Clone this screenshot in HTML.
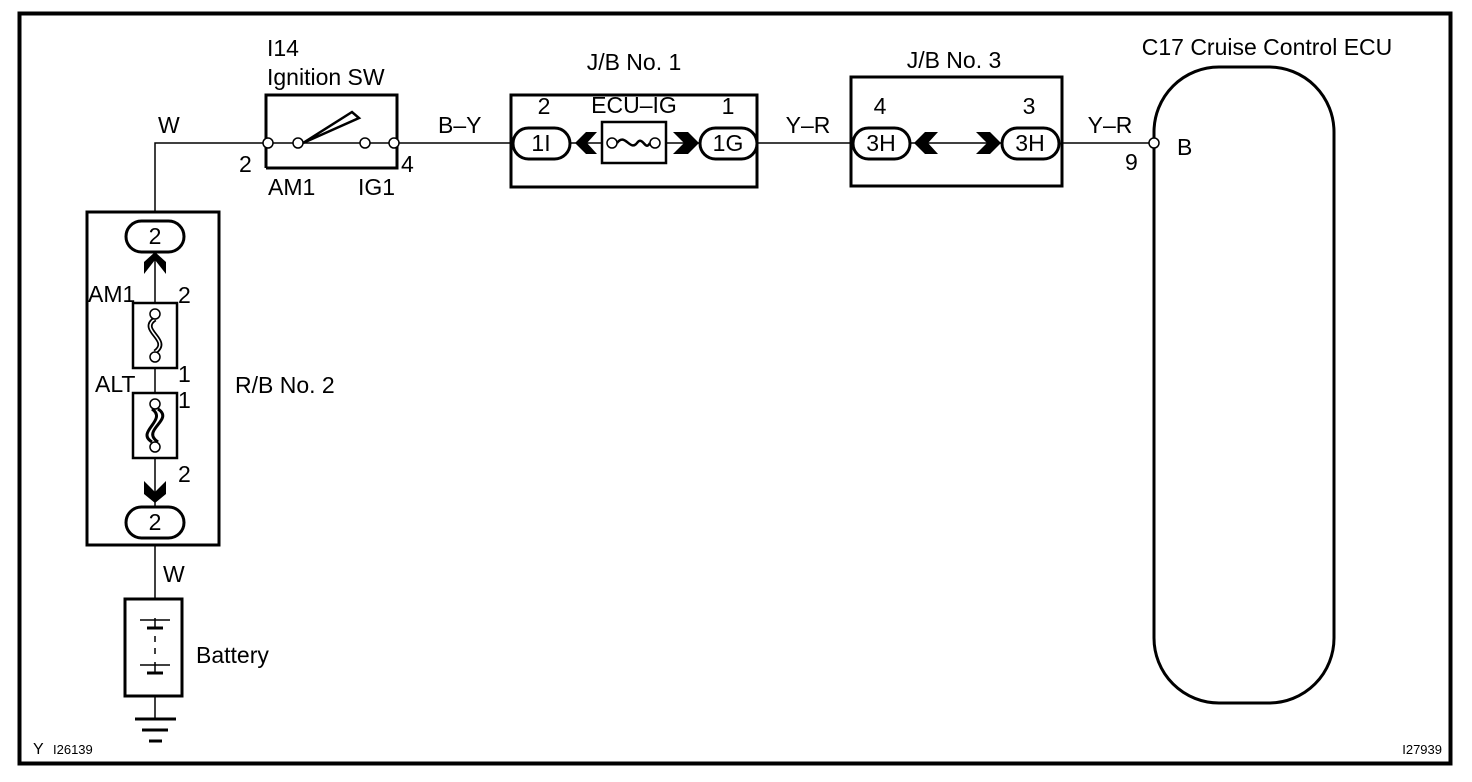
<!DOCTYPE html>
<html><head><meta charset="utf-8"><style>
html,body{margin:0;padding:0;background:#fff;}
svg{display:block;}
text{font-family:"Liberation Sans",Arial,sans-serif;font-size:23px;fill:#000;}
</style></head><body>
<svg width="1472" height="782" viewBox="0 0 1472 782" xmlns="http://www.w3.org/2000/svg">
<g fill="none" stroke="#000">
<rect x="19.5" y="13.5" width="1431" height="750" stroke-width="4"/>
<path d="M155 212 V143 H266 M395 143 H511 M757 143 H851 M1062 143 H1154" stroke-width="1.5"/>
<path d="M155 252 V507 M155 545 V599 M155 696 V718" stroke-width="1.5"/>
<rect x="87" y="212" width="132" height="333" stroke-width="3"/>
<rect x="126" y="221" width="58" height="31" rx="15.5" stroke-width="3" fill="#fff"/>
<rect x="126" y="507" width="58" height="31" rx="15.5" stroke-width="3" fill="#fff"/>
<rect x="133" y="303" width="44" height="65" stroke-width="2.5" fill="#fff"/>
<rect x="133" y="393" width="44" height="65" stroke-width="2.5" fill="#fff"/>
<path d="M155 319 C138 330,172 340,155 352" stroke-width="5"/>
<path d="M155 319 C138 330,172 340,155 352" stroke-width="1.5" stroke="#fff"/>
<circle cx="155" cy="314" r="5" fill="#fff" stroke-width="1.5"/>
<circle cx="155" cy="357" r="5" fill="#fff" stroke-width="1.5"/>
<path d="M158 409 C175 420,140 430,158 442 M152 409 C168 420,135 432,152 442" stroke-width="3"/>
<circle cx="155" cy="404" r="5" fill="#fff" stroke-width="1.5"/>
<circle cx="155" cy="447" r="5" fill="#fff" stroke-width="1.5"/>
<rect x="125" y="599" width="57" height="97" stroke-width="3"/>
<path d="M140 620 H170 M140 665 H170 M155 627 V618 M155 672 V662 M155 636 V642 M155 648 V654" stroke-width="1.5"/>
<path d="M147 628 H163 M147 673 H163" stroke-width="3"/>
<path d="M135 719 H176 M142 730 H168 M149 741 H162" stroke-width="3"/>
<path d="M266 168 V95 H397 V168 H266" stroke-width="3"/>
<path d="M266 143 H293 M303 143 H360 M370 143 H390" stroke-width="1.5"/>
<path d="M303 143 L352 112 L359 118 Z" stroke-width="2.5" fill="#fff"/>
<circle cx="268" cy="143" r="5" fill="#fff" stroke-width="1.5"/>
<circle cx="298" cy="143" r="5" fill="#fff" stroke-width="1.5"/>
<circle cx="365" cy="143" r="5" fill="#fff" stroke-width="1.5"/>
<circle cx="394" cy="143" r="5" fill="#fff" stroke-width="1.5"/>
<rect x="511" y="95" width="246" height="92" stroke-width="3"/>
<path d="M570 143 H602 M666 143 H700" stroke-width="1.5"/>
<rect x="513" y="128" width="57" height="31" rx="15.5" stroke-width="3" fill="#fff"/>
<rect x="700" y="128" width="57" height="31" rx="15.5" stroke-width="3" fill="#fff"/>
<rect x="602" y="122" width="64" height="41" stroke-width="2.5"/>
<path d="M617 143 C625 132,630 152,637 143 C643 135,645 152,650 143" stroke-width="2.5"/>
<circle cx="612" cy="143" r="5" fill="#fff" stroke-width="1.5"/>
<circle cx="655" cy="143" r="5" fill="#fff" stroke-width="1.5"/>
<rect x="851" y="77" width="211" height="109" stroke-width="3"/>
<path d="M910 143 H1002" stroke-width="1.5"/>
<rect x="853" y="128" width="57" height="31" rx="15.5" stroke-width="3" fill="#fff"/>
<rect x="1002" y="128" width="57" height="31" rx="15.5" stroke-width="3" fill="#fff"/>
<rect x="1154" y="67" width="180" height="636" rx="65" stroke-width="3"/>
<circle cx="1154" cy="143" r="5" fill="#fff" stroke-width="1.5"/>
</g>
<g fill="#000">
<path d="M144 274 L155 260 L166 274 L166 262 L155 252 L144 262 Z"/>
<path d="M144 481 L155 492 L166 481 L166 494 L155 503 L144 494 Z"/>
<path d="M586 132 L575 143 L586 154 L597 154 L587 143 L597 132 Z"/>
<path d="M673 132 L684 143 L673 154 L688 154 L699 143 L688 132 Z"/>
<path d="M925 132 L914 143 L925 154 L938 154 L928 143 L938 132 Z"/>
<path d="M976 132 L987 143 L976 154 L990 154 L1001 143 L990 132 Z"/>
</g>
<text x="155" y="244" text-anchor="middle">2</text>
<text x="155" y="530" text-anchor="middle">2</text>
<text x="88" y="302">AM1</text>
<text x="178" y="303">2</text>
<text x="178" y="382">1</text>
<text x="95" y="392">ALT</text>
<text x="178" y="408">1</text>
<text x="178" y="482">2</text>
<text x="235" y="393">R/B No. 2</text>
<text x="163" y="582">W</text>
<text x="196" y="663">Battery</text>
<text x="158" y="133">W</text>
<text x="267" y="56">I14</text>
<text x="267" y="85">Ignition SW</text>
<text x="239" y="172">2</text>
<text x="401" y="172">4</text>
<text x="268" y="195">AM1</text>
<text x="358" y="195">IG1</text>
<text x="438" y="133">B–Y</text>
<text x="634" y="70" text-anchor="middle">J/B No. 1</text>
<text x="544" y="114" text-anchor="middle">2</text>
<text x="634" y="113" text-anchor="middle">ECU–IG</text>
<text x="728" y="114" text-anchor="middle">1</text>
<text x="541" y="151" text-anchor="middle">1I</text>
<text x="728" y="151" text-anchor="middle">1G</text>
<text x="808" y="133" text-anchor="middle">Y–R</text>
<text x="954" y="68" text-anchor="middle">J/B No. 3</text>
<text x="880" y="114" text-anchor="middle">4</text>
<text x="1029" y="114" text-anchor="middle">3</text>
<text x="881" y="151" text-anchor="middle">3H</text>
<text x="1030" y="151" text-anchor="middle">3H</text>
<text x="1110" y="133" text-anchor="middle">Y–R</text>
<text x="1125" y="170">9</text>
<text x="1177" y="155">B</text>
<text x="1267" y="55" text-anchor="middle">C17 Cruise Control ECU</text>
<text x="33" y="754" style="font-size:16px">Y</text>
<text x="53" y="754" style="font-size:13px">I26139</text>
<text x="1442" y="754" text-anchor="end" style="font-size:13px">I27939</text>
</svg>
</body></html>
